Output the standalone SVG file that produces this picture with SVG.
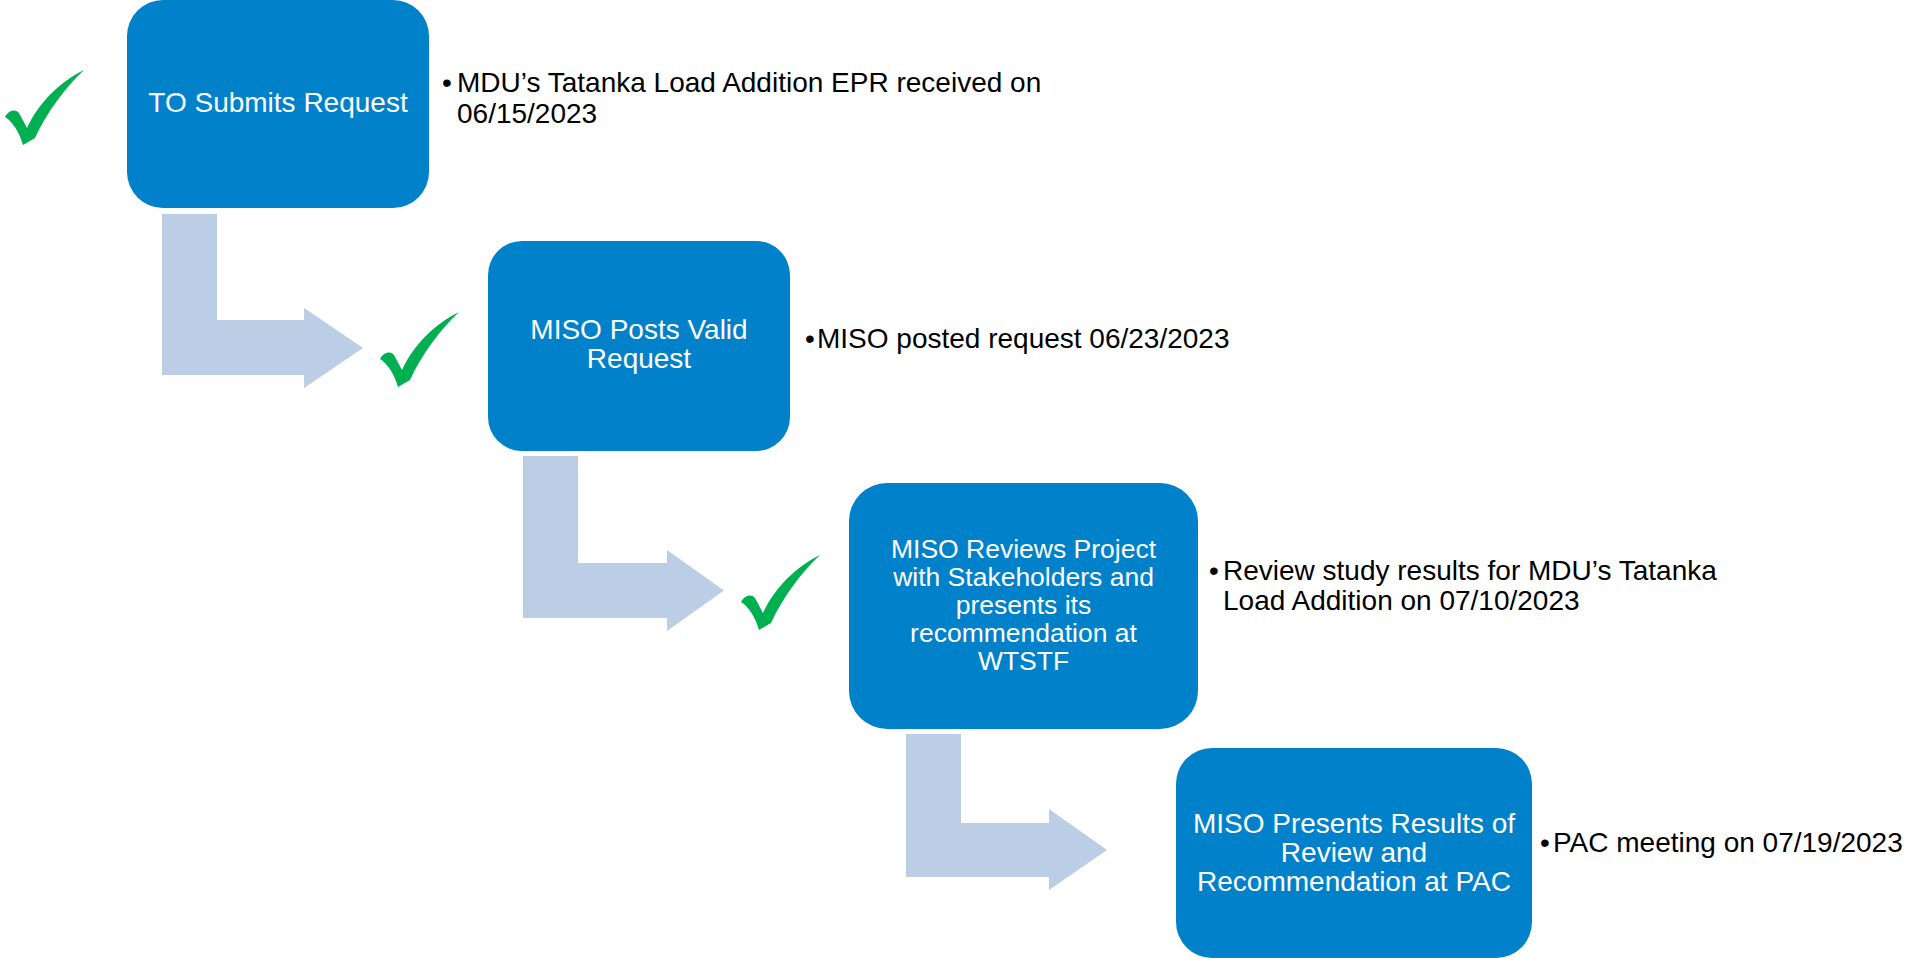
<svg xmlns="http://www.w3.org/2000/svg" width="1909" height="961" viewBox="0 0 1909 961">
<style>
.box{fill:#0081C9;}
.bt{font-family:"Liberation Sans",Arial,sans-serif;font-size:28px;fill:#FFFFFF;text-anchor:middle;}
.nt{font-family:"Liberation Sans",Arial,sans-serif;font-size:28px;fill:#000000;}
.bul{font-family:"Liberation Sans",Arial,sans-serif;font-size:28px;fill:#000000;text-anchor:middle;}
.arr{fill:#BCCDE6;}
.chk{fill:#00B050;}
</style>
<defs>
<path id="check" d="M0,47 C3,41 10,38 14,43 L22,58 C34,32 55,12 79,0 C60,18 42,42 30,68 L18,75 C14,62 8,52 0,47 Z"/>
</defs>
<rect width="1909" height="961" fill="#FFFFFF"/>
<g id="connectors">
<path class="arr" d="M162,214 H217 V320 H304 V308 L363,348 L304,388 V375 H162 Z"/>
<path class="arr" d="M523,456 H578 V563 H667 V550 L724,590.5 L667,631 V618 H523 Z"/>
<path class="arr" d="M906,734 H961 V823 H1049 V809 L1107,850 L1049,890 V877 H906 Z"/>
</g>
<g id="checks">
<use href="#check" class="chk" x="5" y="70"/>
<use href="#check" class="chk" x="380" y="312"/>
<use href="#check" class="chk" x="741" y="555"/>
</g>
<g id="node1">
<rect class="box" x="127" y="0" width="302" height="208" rx="36" ry="36"/>
<text class="bt" x="278" y="112">TO Submits Request</text>
</g>
<g id="note1">
<text class="bul" x="447" y="92">•</text>
<text class="nt" x="457" y="92">MDU’s Tatanka Load Addition EPR received on</text>
<text class="nt" x="457" y="123">06/15/2023</text>
</g>
<g id="node2">
<rect class="box" x="488" y="241" width="302" height="210" rx="34" ry="34"/>
<text class="bt" x="639" y="339">MISO Posts Valid</text>
<text class="bt" x="639" y="368">Request</text>
</g>
<g id="note2">
<text class="bul" x="810" y="348">•</text>
<text class="nt" x="817" y="348">MISO posted request 06/23/2023</text>
</g>
<g id="node3">
<rect class="box" x="849" y="483" width="349" height="246" rx="38" ry="38"/>
<text class="bt" x="1023.5" y="558" style="font-size:26.5px">MISO Reviews Project</text>
<text class="bt" x="1023.5" y="586" style="font-size:26.5px">with Stakeholders and</text>
<text class="bt" x="1023.5" y="614" style="font-size:26.5px">presents its</text>
<text class="bt" x="1023.5" y="642" style="font-size:26.5px">recommendation at</text>
<text class="bt" x="1023.5" y="670" style="font-size:26.5px">WTSTF</text>
</g>
<g id="note3">
<text class="bul" x="1214" y="580">•</text>
<text class="nt" x="1223" y="580">Review study results for MDU’s Tatanka</text>
<text class="nt" x="1223" y="610">Load Addition on 07/10/2023</text>
</g>
<g id="node4">
<rect class="box" x="1176" y="748" width="356" height="210" rx="36" ry="36"/>
<text class="bt" x="1354" y="833">MISO Presents Results of</text>
<text class="bt" x="1354" y="862">Review and</text>
<text class="bt" x="1354" y="891">Recommendation at PAC</text>
</g>
<g id="note4">
<text class="bul" x="1545" y="852">•</text>
<text class="nt" x="1553" y="852">PAC meeting on 07/19/2023</text>
</g>
</svg>
